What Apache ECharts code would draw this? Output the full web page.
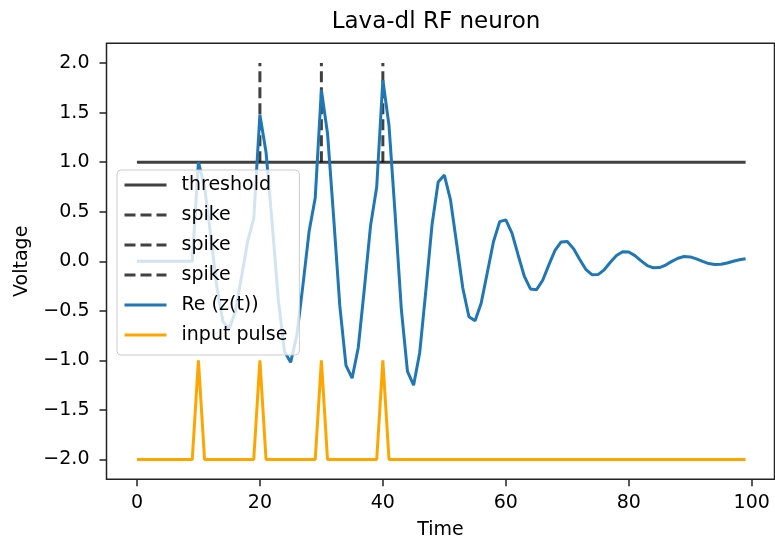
<!DOCTYPE html>
<html>
<head>
<meta charset="utf-8">
<script src="https://cdn.jsdelivr.net/npm/echarts@6/dist/echarts.min.js"></script>
<style>
html,body{margin:0;padding:0;background:#fff;}
#chart{width:775px;height:549px;}
</style>
</head>
<body>
<div id="chart"></div>
<script>
// ---- data ----
const time = Array.from({length: 100}, (_, i) => i);
const reZ = [
  0, 0, 0, 0, 0, 0, 0, 0, 0, 0,
  1.00, 0.75, 0.26, -0.26, -0.61, -0.68, -0.51, -0.16, 0.20, 0.43,
  1.48, 1.10, 0.38, -0.39, -0.91, -1.02, -0.75, -0.24, 0.30, 0.64,
  1.73, 1.29, 0.44, -0.45, -1.05, -1.18, -0.87, -0.27, 0.36, 0.75,
  1.83, 1.37, 0.47, -0.48, -1.11, -1.25, -0.92, -0.29, 0.37, 0.80,
  0.87, 0.62, 0.18, -0.27, -0.56, -0.60, -0.42, -0.11, 0.20, 0.40,
  0.418, 0.284, 0.064, -0.150, -0.279, -0.286, -0.191, -0.036, 0.110, 0.196,
  0.200, 0.128, 0.020, -0.081, -0.135, -0.134, -0.086, -0.010, 0.059, 0.097,
  0.094, 0.057, 0.004, -0.043, -0.066, -0.063, -0.038, -0.001, 0.031, 0.048,
  0.044, 0.025, -0.001, -0.023, -0.033, -0.030, -0.017, 0.001, 0.016, 0.025
];
const inputPulse = [
  -2, -2, -2, -2, -2, -2, -2, -2, -2, -2,
  -1, -2, -2, -2, -2, -2, -2, -2, -2, -2,
  -1, -2, -2, -2, -2, -2, -2, -2, -2, -2,
  -1, -2, -2, -2, -2, -2, -2, -2, -2, -2,
  -1, -2, -2, -2, -2, -2, -2, -2, -2, -2,
  -2, -2, -2, -2, -2, -2, -2, -2, -2, -2,
  -2, -2, -2, -2, -2, -2, -2, -2, -2, -2,
  -2, -2, -2, -2, -2, -2, -2, -2, -2, -2,
  -2, -2, -2, -2, -2, -2, -2, -2, -2, -2,
  -2, -2, -2, -2, -2, -2, -2, -2, -2, -2
];
const thresholdValue = 1.0;
const thresholdSpan = [0, 99];
const spikeTimes = [20, 30, 40];
const spikeRange = [1.0, 2.0];
const xTicks = [0, 20, 40, 60, 80, 100];
const yTicks = [-2.0, -1.5, -1.0, -0.5, 0.0, 0.5, 1.0, 1.5, 2.0];
const seriesNames = ['threshold', 'spike', 'spike ', 'spike  ', 'Re (z(t))', 'input pulse'];

// ---- chart ----
const FONT = 'DejaVu Sans';
const dark = 'rgba(0,0,0,0.75)';
const chart = echarts.init(document.getElementById('chart'), null, {renderer: 'canvas'});

const series = [];
series.push({
  name: seriesNames[0], type: 'line', symbol: 'none', animation: false,
  data: thresholdSpan.map(t => [t, thresholdValue]),
  lineStyle: {color: dark, width: 3},
  itemStyle: {color: dark}
});
spikeTimes.forEach((t, i) => {
  series.push({
    name: seriesNames[1 + i], type: 'line', symbol: 'none', animation: false,
    data: spikeRange.map(v => [t, v]),
    lineStyle: {color: dark, width: 3, type: [11, 5]},
    itemStyle: {color: dark}
  });
});
series.push({
  name: seriesNames[4], type: 'line', symbol: 'none', animation: false,
  data: time.map((t, i) => [t, reZ[i]]),
  lineStyle: {color: '#1f77b4', width: 3},
  itemStyle: {color: '#1f77b4'}
});
series.push({
  name: seriesNames[5], type: 'line', symbol: 'none', animation: false,
  data: time.map((t, i) => [t, inputPulse[i]]),
  lineStyle: {color: '#ffa500', width: 3},
  itemStyle: {color: '#ffa500'}
});

const fmtNum = v => {
  const s = Number(v).toFixed(1);
  return s.charAt(0) === '-' ? '\u2212' + s.slice(1) : s;
};

chart.setOption({
  animation: false,
  backgroundColor: '#fff',
  textStyle: {fontFamily: FONT},
  graphic: [{
    type: 'text', x: 436, y: 22,
    style: {text: 'Lava-dl RF neuron', font: '23px "DejaVu Sans"', fill: '#000', align: 'center', verticalAlign: 'middle'}
  }],
  grid: {
    left: 106.5, top: 43.3, width: 668, height: 436,
    show: true, borderColor: '#222', borderWidth: 1.5, backgroundColor: 'transparent'
  },
  legend: {
    orient: 'vertical', left: 117, top: 170,
    data: seriesNames,
    formatter: n => n.trim(),
    itemWidth: 42, itemHeight: 14, itemGap: 8,
    padding: [4, 12, 9, 6],
    backgroundColor: 'rgba(255,255,255,0.8)',
    borderColor: '#cccccc', borderWidth: 1, borderRadius: 4,
    itemStyle: {opacity: 0},
    lineStyle: {width: 3},
    textStyle: {fontFamily: FONT, fontSize: 19, color: '#000', lineHeight: 22, padding: [0, 0, 0, 10]}
  },
  xAxis: {
    type: 'value', min: -4.95, max: 103.7,
    axisLine: {show: false, onZero: false},
    splitLine: {show: false},
    axisTick: {show: true, inside: false, length: 7, lineStyle: {color: '#222', width: 1.5}, customValues: xTicks},
    axisLabel: {customValues: xTicks, fontSize: 19, color: '#000', margin: 14, fontFamily: FONT},
    name: 'Time', nameLocation: 'middle', nameGap: 41,
    nameTextStyle: {fontSize: 19, color: '#000', fontFamily: FONT}
  },
  yAxis: {
    type: 'value', min: -2.2, max: 2.2,
    axisLine: {show: false, onZero: false},
    splitLine: {show: false},
    axisTick: {show: true, inside: false, length: 7, lineStyle: {color: '#222', width: 1.5}, customValues: yTicks},
    axisLabel: {customValues: yTicks, fontSize: 19, color: '#000', margin: 17, fontFamily: FONT, formatter: fmtNum},
    name: 'Voltage', nameLocation: 'middle', nameGap: 75, nameRotate: 90,
    nameTextStyle: {fontSize: 19, color: '#000', fontFamily: FONT}
  },
  series: series
});
</script>
</body>
</html>
